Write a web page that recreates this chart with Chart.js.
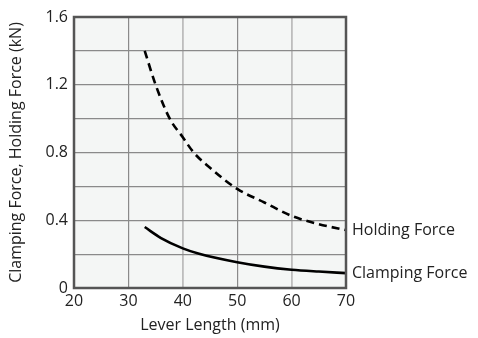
<!DOCTYPE html>
<html lang="en">
<head>
  <meta charset="UTF-8">
  <title>Clamping / Holding Force vs Lever Length</title>
  <script src="https://cdn.jsdelivr.net/npm/chart.js"></script>
  <style>
    html, body { margin: 0; padding: 0; background: #fff; }
    #wrap { width: 478px; height: 338px; }
  </style>
</head>
<body>
  <div id="wrap"><canvas id="forceChart" width="478" height="338"></canvas></div>

  <script>
    // values
    const holdingLength = [33, 35, 37.6, 40, 42, 45, 50, 55, 60, 65, 70];
    const holdingForce  = [1.40, 1.20, 1.00, 0.89, 0.80, 0.71, 0.585, 0.505, 0.426, 0.377, 0.342];

    const clampingLength = [33, 36, 40, 43, 50, 55, 60, 65, 70];
    const clampingForce  = [0.36, 0.295, 0.234, 0.202, 0.152, 0.126, 0.108, 0.097, 0.088];

    const seriesNames = ['Holding Force', 'Clamping Force'];
    const xTicks = [20, 30, 40, 50, 60, 70];
    const yLabelTicks = [0, 0.4, 0.8, 1.2, 1.6];

    const FONT = "'Open Sans', sans-serif";
    const toPoints = (xs, ys) => xs.map((x, i) => ({ x: x, y: ys[i] }));

    // plot background + frame
    const frame = {
      id: 'frame',
      beforeDraw(chart) {
        const { ctx, chartArea: a } = chart;
        ctx.save();
        ctx.fillStyle = '#f4f6f5';
        ctx.fillRect(a.left, a.top, a.right - a.left, a.bottom - a.top);
        ctx.restore();
      },
      afterDatasetsDraw(chart) {
        const { ctx, chartArea: a } = chart;
        ctx.save();
        ctx.strokeStyle = '#555';
        ctx.lineWidth = 2.5;
        ctx.strokeRect(a.left, a.top, a.right - a.left, a.bottom - a.top);
        ctx.restore();
      }
    };

    // names written at the end of each curve
    const endLabels = {
      id: 'endLabels',
      afterDraw(chart) {
        const { ctx, chartArea: a } = chart;
        ctx.save();
        ctx.font = '16px ' + FONT;
        ctx.fillStyle = '#222';
        ctx.textAlign = 'left';
        ctx.textBaseline = 'middle';
        chart.data.datasets.forEach((ds, i) => {
          const pts = chart.getDatasetMeta(i).data;
          const last = pts[pts.length - 1];
          ctx.fillText(ds.label, a.right + 6, last.y);
        });
        ctx.restore();
      }
    };

    Chart.defaults.font.family = FONT;
    Chart.defaults.color = '#222';

    new Chart(document.getElementById('forceChart'), {
      type: 'line',
      data: {
        datasets: [
          {
            label: seriesNames[0],
            data: toPoints(holdingLength, holdingForce),
            borderColor: '#000',
            borderWidth: 2.6,
            borderDash: [8, 5],
            pointRadius: 0,
            cubicInterpolationMode: 'monotone',
            fill: false
          },
          {
            label: seriesNames[1],
            data: toPoints(clampingLength, clampingForce),
            borderColor: '#000',
            borderWidth: 2.6,
            pointRadius: 0,
            cubicInterpolationMode: 'monotone',
            fill: false
          }
        ]
      },
      options: {
        responsive: false,
        animation: false,
        layout: { padding: { top: 17, right: 132, left: 0, bottom: 0 } },
        plugins: { legend: { display: false }, tooltip: { enabled: false } },
        scales: {
          x: {
            type: 'linear',
            min: 20, max: 70,
            afterBuildTicks: s => { s.ticks = xTicks.map(v => ({ value: v })); },
            afterFit: s => { s.height = 50; },
            ticks: { font: { size: 16 }, padding: 4, maxRotation: 0 },
            grid: {
              drawTicks: false,
              color: c => (c.tick && (c.tick.value === 40 || c.tick.value === 60)) ? '#bdbdbd' : '#8a8a8a',
              lineWidth: c => (c.tick && (c.tick.value === 40 || c.tick.value === 60)) ? 1.8 : 1.2
            },
            border: { display: false },
            title: { display: true, text: 'Lever Length (mm)', font: { size: 16 }, padding: { top: 0, bottom: 3 } }
          },
          y: {
            min: 0, max: 1.6,
            ticks: {
              stepSize: 0.2,
              font: { size: 16 },
              padding: 6,
              callback: v => yLabelTicks.some(t => Math.abs(t - v) < 1e-6) ? String(Number(v.toFixed(1))) : ''
            },
            afterFit: s => { s.width = 74; },
            grid: { drawTicks: false, color: '#8a8a8a', lineWidth: 1.2 },
            border: { display: false },
            title: { display: true, text: 'Clamping Force, Holding Force (kN)', font: { size: 16 }, padding: { top: 7, bottom: 0 } }
          }
        }
      },
      plugins: [frame, endLabels]
    });
  </script>
</body>
</html>
